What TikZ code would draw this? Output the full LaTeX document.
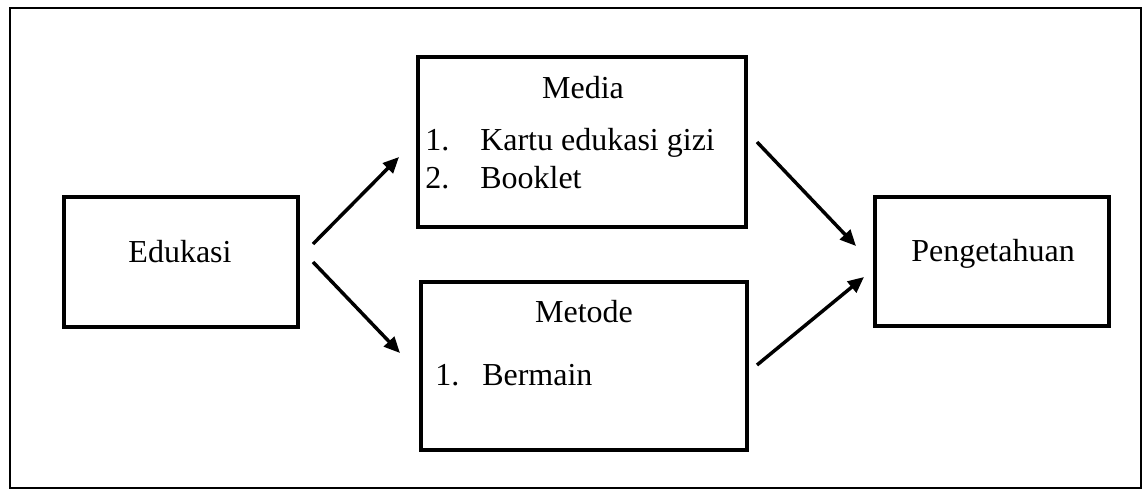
\documentclass[tikz,border=0pt]{standalone}
\usepackage{fontspec}
\setmainfont{Liberation Serif}
\usetikzlibrary{arrows.meta}
\begin{document}
\begin{tikzpicture}[x=0.75pt,y=-0.75pt,
  box/.style={draw, line width=2.6pt, rectangle, inner sep=0pt},
  lbl/.style={anchor=base, inner sep=0pt, font=\fontsize{24}{29}\selectfont},
  lbll/.style={lbl, anchor=base west},
  arr/.style={line width=2.6pt, -{Triangle[length=12pt,width=10.5pt]}}]
\useasboundingbox (0,0) rectangle (1147,490);
\draw[line width=1.6pt] (10,8) rectangle (1141,488);
% boxes
\node[box, minimum width=175.5pt, minimum height=97.5pt] (edu) at (181,262) {};
\node[box, minimum width=246pt, minimum height=127.5pt] (media) at (582,142) {};
\node[box, minimum width=244.5pt, minimum height=126pt] (metode) at (584,366) {};
\node[box, minimum width=175.5pt, minimum height=96.75pt] (peng) at (992,261.5) {};
% texts
\node[lbl] (tedu) at (180,262) {Edukasi};
\node[lbl] (tmedia) at (583,98) {Media};
\node[lbll] (n1) at (425,150) {1.};
\node[lbll] (i1) at (480,150) {Kartu edukasi gizi};
\node[lbll] (n2) at (425,188) {2.};
\node[lbll] (i2) at (480,188) {Booklet};
\node[lbl] (tmetode) at (584,322) {Metode};
\node[lbll] (n3) at (435,385) {1.};
\node[lbll] (i3) at (482,385) {Bermain};
\node[lbl] (tpeng) at (993,261) {Pengetahuan};
% arrow end points
\coordinate (e1) at (313,244);
\coordinate (m1) at (399,157);
\coordinate (e2) at (313,262);
\coordinate (t1) at (400,353);
\coordinate (m2) at (757,142);
\coordinate (p1) at (856,246);
\coordinate (t2) at (757,365);
\coordinate (p2) at (864,277);
\draw[arr] (e1) -- (m1);
\draw[arr] (e2) -- (t1);
\draw[arr] (m2) -- (p1);
\draw[arr] (t2) -- (p2);
\end{tikzpicture}
\end{document}
